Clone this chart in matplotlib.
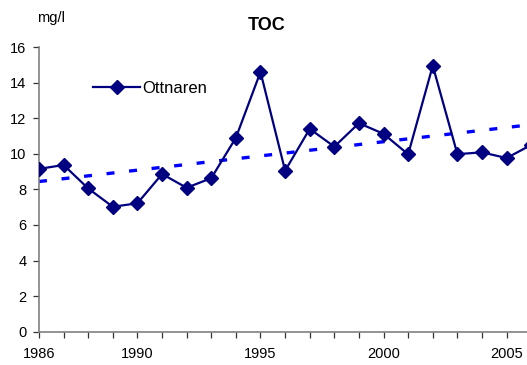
import numpy as np
import matplotlib.pyplot as plt

plt.rcParams['font.family'] = ['Liberation Sans', 'DejaVu Sans']

# TOC i Ottnaren, årsmedelvärden (mg/l)
years = np.arange(1986, 2007)
toc = [9.15, 9.37, 8.05, 7.02, 7.22, 8.86, 8.09, 8.63, 10.9, 14.6,
       9.05, 11.4, 10.4, 11.72, 11.12, 9.97, 14.95, 9.98, 10.08, 9.76, 10.5]
label_years = [1986, 1990, 1995, 2000, 2005]

fig = plt.figure(figsize=(5.27, 3.65), dpi=100)
ax = fig.add_axes([0.074, 0.0912, 0.934, 0.780])

ax.plot(years, toc, color='#000080', linewidth=1.6, marker='D',
        markersize=7.5, markerfacecolor='#000080', markeredgecolor='#000080',
        label='Ottnaren', zorder=3)

# linjär trend
k, m = np.polyfit(years, toc, 1)
ax.plot(years, k * years + m, color='#0000FF', linewidth=2.4,
        linestyle=(0, (2.4, 4.4)), zorder=2)

ax.set_xlim(1986, 2006)
ax.set_ylim(0, 16)
ax.set_yticks(np.arange(0, 17, 2))
ax.set_xticks(years)
ax.set_xticklabels([str(y) if y in label_years else '' for y in years])

for side in ['top', 'right']:
    ax.spines[side].set_visible(False)
for side in ['left', 'bottom']:
    ax.spines[side].set_color('#808080')
    ax.spines[side].set_linewidth(1.2)
ax.tick_params(axis='both', length=4, width=0.9, color='#333333',
               labelsize=10.5, direction='out')
ax.tick_params(axis='y', pad=5)
ax.tick_params(axis='x', pad=7)

ax.legend(loc='upper left', bbox_to_anchor=(0.08, 0.935), frameon=False,
          fontsize=12, handlelength=2.8, handletextpad=0.15)

fig.text(0.505, 0.93, 'TOC', fontsize=13, fontweight='bold',
         ha='center', va='center')
fig.text(0.07, 0.95, 'mg/l', fontsize=10.5, ha='left', va='center')

fig.savefig('out.png', dpi=100)
